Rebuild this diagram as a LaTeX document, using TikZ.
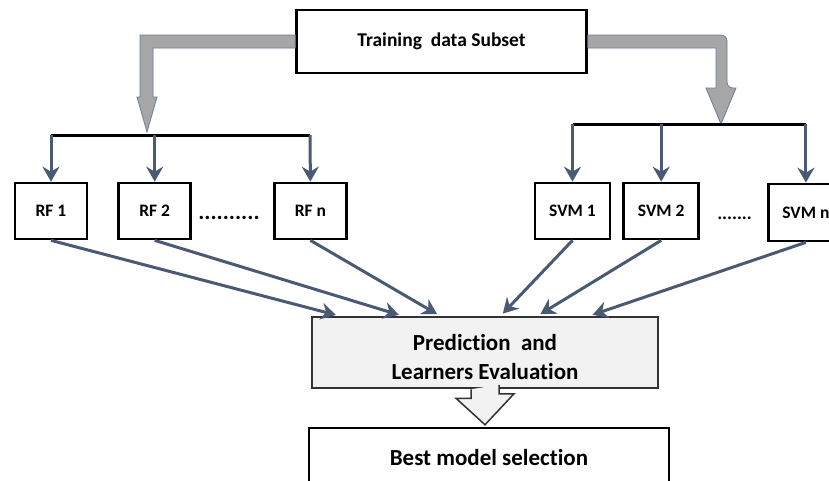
\documentclass[tikz,border=0pt]{standalone}
\usepackage{fontspec}
\setmainfont{Carlito}[Ligatures=NoCommon]
\usetikzlibrary{arrows.meta,positioning,calc}
\definecolor{slate}{RGB}{74,90,114}
\definecolor{fatgray}{RGB}{166,166,166}
\definecolor{fatline}{RGB}{105,125,155}
\definecolor{predfill}{RGB}{242,242,242}
\tikzset{
	box/.style={draw, line width=2.7pt, fill=white, align=center, inner sep=0pt, minimum width=72pt, minimum height=56pt, font=\bfseries\fontsize{17.5}{20}\selectfont},
	bigbox/.style={draw, line width=2.5pt, fill=white, align=center, inner sep=0pt, font=\bfseries\fontsize{23}{29}\selectfont},
	dots/.style={inner sep=0pt, font=\bfseries\fontsize{23}{23}\selectfont},
	bus/.style={line width=3pt},
	link/.style={draw=slate, line width=3pt, -{Stealth[length=15pt, width=17pt, inset=5pt]}},
	fat/.style={fill=fatgray, draw=fatline, line width=0.8pt},
	hollow/.style={fill=predfill, draw=black!80, line width=1.5pt}
}

\begin{document}
\begin{tikzpicture}[x=1pt, y=-1pt]
	\useasboundingbox (0,0) rectangle (829,480);
	\clip (0,0) rectangle (829,480);
	% data
	\node[bigbox, minimum width=290pt, minimum height=63pt, font=\bfseries\fontsize{19.5}{23}\selectfont] (train) at (441.5,41.5) {Training\ \ data Subset};
	% random forests
	\node[box] (rf1) at (51,211) {RF 1};
	\node[box, right=29pt of rf1] (rf2) {RF 2};
	\node[box, right=81pt of rf2] (rfn) {RF n};
	\node[dots, right=6pt of rf2, yshift=-7pt] (rfdots) {..........};
	% support vector machines
	\node[box, minimum width=75pt] (svm1) at (572.5,211) {SVM 1};
	\node[box, minimum width=75pt, right=11pt of svm1] (svm2) {SVM 2};
	\node[box, minimum width=75pt, minimum height=57pt, right=67pt of svm2, yshift=-1.5pt] (svmn) {SVM n};
	\node[dots, font=\bfseries\fontsize{18.5}{18.5}\selectfont, right=17pt of svm2, yshift=-7pt] (svmdots) {.......};
	% evaluation
	\node[bigbox, fill=predfill, draw=black!80, minimum width=346pt, minimum height=71pt] (pred) at (485,352.5) {\rule{0pt}{25pt}Prediction\ \ and\\Learners Evaluation};
	\node[bigbox, minimum width=360pt, minimum height=60pt] (best) at (489,458) {Best model selection};

	% split from the data box
	\coordinate (rfjoin) at (147,135);
	\coordinate (rfend) at (310,135);
	\coordinate (svmjoin) at (721,124);
	\filldraw[fat] ($(train.west)+(0,-6.5)$) -| ($(rfjoin)+(-7,-38)$) -- ++(-3,0) -- ($(rfjoin)+(0,-3)$)
		-- ($(rfjoin)+(10,-38)$) -- ++(-4,0) |- ($(train.west)+(0,6.5)$) -- cycle;
	\filldraw[fat] ($(train.east)+(0,-6.5)$) [rounded corners=6pt] -| ($(svmjoin)+(6,-36)$) [sharp corners] -- ++(9,0) -- (svmjoin)
		-- ($(svmjoin)+(-15,-36)$) -- ++(10,0) |- ($(train.east)+(0,6.5)$) -- cycle;
	\draw[bus] (rf1 |- rfjoin) -- (rfend);
	\draw[bus] (svm1 |- svmjoin) -- (svmn |- svmjoin);
	\foreach \b in {rf1,rf2}
		\draw[link] (\b |- rfjoin) -- (\b.north);
	\draw[link] (rfend) -- (rfn.north);
	\foreach \b in {svm1,svm2,svmn}
		\draw[link] (\b |- svmjoin) -- (\b.north);

	% all learners into evaluation
	\foreach \b/\x in {rf1/28,rf2/91,rfn/129,svm1/190,svm2/227,svmn/279}
		\draw[link, shorten >=3pt] (\b.south) -- ([xshift=\x pt]pred.north west);
	\draw[hollow] ([xshift=-14pt]pred.south) -- ++(0,9) -- ++(-15,0) -- ($(pred.south |- best.north)+(0,-2)$)
		-- ++(29,-31) -- ++(-15,0) -- ++(0,-9);
\end{tikzpicture}
\end{document}
